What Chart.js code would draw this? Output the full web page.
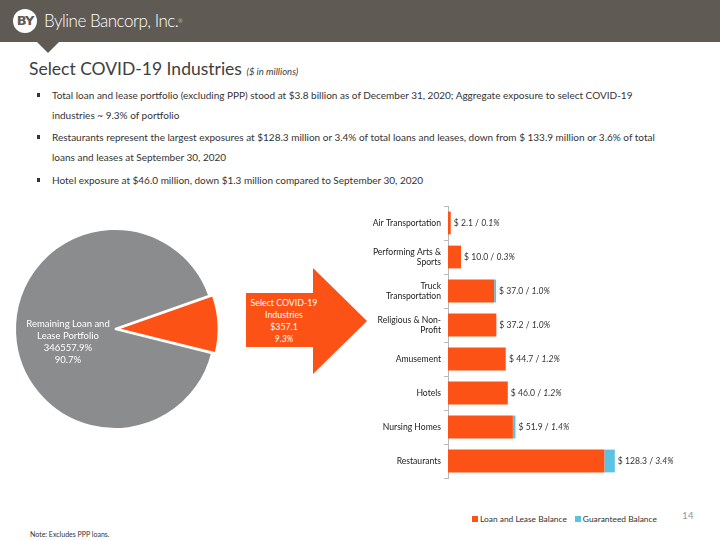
<!DOCTYPE html>
<html>
<head>
<meta charset="utf-8">
<script src="https://cdn.jsdelivr.net/npm/chart.js@4"></script>
<style>
  html,body{margin:0;padding:0;}
  body{width:720px;height:540px;overflow:hidden;position:relative;background:#fff;font-family:Lato,"Open Sans",sans-serif;color:#333;}
  .abs{position:absolute;white-space:nowrap;}
  .bl{position:absolute;left:52px;font-size:10px;color:#333;white-space:nowrap;line-height:12px;}
  .bu{position:absolute;left:37px;width:3px;height:4px;background:#333;}
  #legend{position:absolute;top:514px;left:472px;font-size:8.4px;color:#333;display:flex;align-items:center;white-space:nowrap;}
  #legend .it{display:flex;align-items:center;margin-right:8px;}
  #legend .sw{width:6px;height:6px;margin-right:2px;}
</style>
</head>
<body>
<div class="abs" style="left:0;top:0;width:720px;height:42px;background:#5f5a53;"></div>
<div class="abs" style="left:37px;top:42px;width:0;height:0;border-left:11px solid transparent;border-right:11px solid transparent;border-top:11px solid #5f5a53;"></div>
<div class="abs" style="left:13px;top:9px;width:24px;height:24px;border-radius:50%;background:#fff;color:#5f5a53;font-weight:bold;font-size:13px;line-height:24px;text-align:center;font-family:'DejaVu Sans',sans-serif;letter-spacing:-1px;">BY</div>
<div class="abs" style="left:44px;top:10px;font-size:17px;color:#fff;line-height:22px;letter-spacing:-0.5px;font-weight:300;">Byline Bancorp, Inc.<span style="font-size:5px;vertical-align:top;">&#174;</span></div>

<div class="abs" style="left:29px;top:58px;font-size:17.5px;color:#404040;line-height:22px;">Select COVID-19 Industries <span style="font-size:9.5px;font-style:italic;">($ in millions)</span></div>

<div class="bu" style="top:93px"></div>
<div class="bl" style="top:89px">Total loan and lease portfolio (excluding PPP) stood at $3.8 billion as of December 31, 2020; Aggregate exposure to select COVID-19</div>
<div class="bl" style="top:109px">industries ~ 9.3% of portfolio</div>
<div class="bu" style="top:135px"></div>
<div class="bl" style="top:131px">Restaurants represent the largest exposures at $128.3 million or 3.4% of total loans and leases, down from $ 133.9 million or 3.6% of total</div>
<div class="bl" style="top:151px">loans and leases at September 30, 2020</div>
<div class="bu" style="top:178px"></div>
<div class="bl" style="top:174px">Hotel exposure at $46.0 million, down $1.3 million compared to September 30, 2020</div>

<svg class="abs" style="left:0;top:0;" width="720" height="540">
  <polygon points="246,293 313,293 313,268 367,321 313,374 313,347 246,347" fill="#fd5215"/>
</svg>
<div class="abs" style="left:243px;top:297px;width:82px;text-align:center;font-size:8.8px;line-height:12px;color:#fff;">Select COVID-19<br>Industries<br>$357.1<br><i>9.3%</i></div>

<div class="abs" style="left:0;top:213px;width:250px;height:232px;"><canvas id="pie" width="250" height="232"></canvas></div>
<div class="abs" style="left:340px;top:196px;width:380px;height:292px;"><canvas id="bar" width="380" height="292"></canvas></div>
<div id="legend"></div>

<div class="abs" style="left:682px;top:509px;font-size:10px;color:#999;">14</div>
<div class="abs" style="left:30px;top:530px;font-size:7px;color:#333;">Note: Excludes PPP loans.</div>

<script>
// ---- data ----
const pieLabels = ["Select COVID-19 Industries", "Remaining Loan and Lease Portfolio"];
const pieValues = [357.1, 3482.7];
const pieTextLines = ["Remaining Loan and", "Lease Portfolio", "346557.9%", "90.7%"];

const categories = [
  "Air Transportation",
  ["Performing Arts &", "Sports"],
  ["Truck", "Transportation"],
  ["Religious & Non-", "Profit"],
  "Amusement",
  "Hotels",
  "Nursing Homes",
  "Restaurants"
];
const loanBalance       = [2.1, 10.0, 35.5, 37.2, 44.3, 46.0, 49.9, 120.3];
const guaranteedBalance = [0, 0, 1.5, 0, 0.4, 0, 2.0, 8.0];
const totalLabels = ["2.1", "10.0", "37.0", "37.2", "44.7", "46.0", "51.9", "128.3"];
const pctLabels   = ["0.1%", "0.3%", "1.0%", "1.0%", "1.2%", "1.2%", "1.4%", "3.4%"];
const seriesNames = ["Loan and Lease Balance", "Guaranteed Balance"];
const seriesColors = ["#fd5215", "#5cc2e4"];
const xMax = 200;

const FONT = "Lato, 'Open Sans', sans-serif";

// ---- pie ----
const pieTextPlugin = {
  id: 'pieText',
  afterDatasetsDraw(chart) {
    const arc = chart.getDatasetMeta(0).data[1];
    const ctx = chart.ctx;
    ctx.save();
    ctx.fillStyle = '#ffffff';
    ctx.font = "9.5px " + FONT;
    ctx.textAlign = 'center';
    ctx.textBaseline = 'middle';
    const cx = arc.x - arc.outerRadius * 0.47;
    const cy = arc.y - 5;
    pieTextLines.forEach((t, i) => ctx.fillText(t, cx, cy + i * 12));
    ctx.restore();
  }
};

new Chart(document.getElementById('pie'), {
  type: 'pie',
  data: {
    labels: pieLabels,
    datasets: [{
      data: pieValues,
      backgroundColor: ["#fd5215", "#8b8c8e"],
      borderColor: "#ffffff",
      borderWidth: 2,
      offset: [10, 0]
    }]
  },
  options: {
    responsive: false,
    animation: false,
    rotation: 70.5,
    layout: { padding: { left: 9, right: 29, top: 10, bottom: 10 } },
    plugins: { legend: { display: false }, tooltip: { enabled: false } }
  },
  plugins: [pieTextPlugin]
});

// ---- bars ----
const barLabelPlugin = {
  id: 'barLabels',
  afterDatasetsDraw(chart) {
    const meta = chart.getDatasetMeta(chart.data.datasets.length - 1);
    const ctx = chart.ctx;
    ctx.save();
    ctx.fillStyle = '#333';
    ctx.textBaseline = 'middle';
    ctx.textAlign = 'left';
    meta.data.forEach((el, i) => {
      let x = el.x + 3;
      const y = el.y;
      ctx.font = "8.6px " + FONT;
      const a = "$ " + totalLabels[i] + " / ";
      ctx.fillText(a, x, y);
      x += ctx.measureText(a).width;
      ctx.font = "italic 8.6px " + FONT;
      ctx.fillText(pctLabels[i], x, y);
    });
    ctx.restore();
  }
};

new Chart(document.getElementById('bar'), {
  type: 'bar',
  data: {
    labels: categories,
    datasets: [
      { label: seriesNames[0], data: loanBalance, backgroundColor: seriesColors[0], barPercentage: 0.67, categoryPercentage: 1 },
      { label: seriesNames[1], data: guaranteedBalance, backgroundColor: seriesColors[1], barPercentage: 0.67, categoryPercentage: 1 }
    ]
  },
  options: {
    indexAxis: 'y',
    responsive: false,
    animation: false,
    layout: { padding: { left: 0, right: 12, top: 10, bottom: 10 } },
    scales: {
      x: { stacked: true, min: 0, max: xMax, display: false },
      y: {
        stacked: true,
        afterFit(scale) { scale.width = 108; },
        border: { display: true, color: '#b8b8b8', width: 1 },
        grid: { drawOnChartArea: false, drawTicks: true, tickLength: 4, color: '#b8b8b8', offset: true },
        ticks: { color: '#222', padding: 3, font: { family: FONT, size: 8.6, lineHeight: 1.2 } }
      }
    },
    plugins: { legend: { display: false }, tooltip: { enabled: false } }
  },
  plugins: [barLabelPlugin]
});

// legend built from series names/colours
const lg = document.getElementById('legend');
seriesNames.forEach((n, i) => {
  const it = document.createElement('div');
  it.className = 'it';
  const sw = document.createElement('div');
  sw.className = 'sw';
  sw.style.background = seriesColors[i];
  const tx = document.createElement('span');
  tx.textContent = n;
  it.appendChild(sw); it.appendChild(tx);
  lg.appendChild(it);
});
</script>
</body>
</html>
